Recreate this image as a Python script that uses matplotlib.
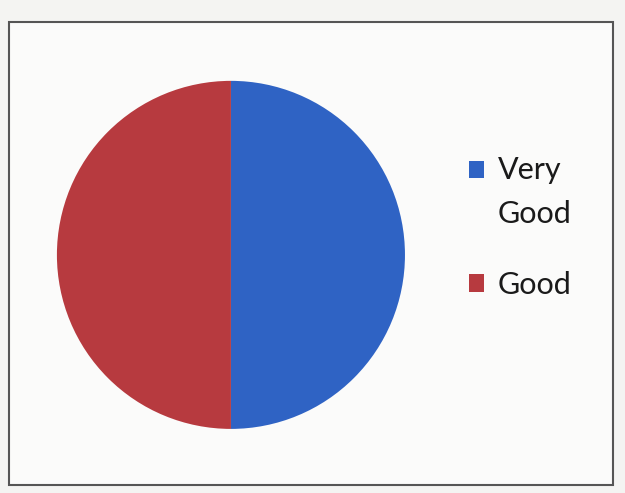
import matplotlib.pyplot as plt
from matplotlib.patches import Rectangle

# data
labels = ["Very\nGood", "Good"]
values = [50, 50]
colors = ["#2f63c4", "#b73a3f"]

plt.rcParams['font.family'] = ['Lato', 'DejaVu Sans']

fig = plt.figure(figsize=(6.25, 4.93), dpi=100)
fig.patch.set_facecolor("#f4f4f2")

# chart area frame (behind the pie)
fig.patches.append(Rectangle((0.014, 0.016), 0.966, 0.94, transform=fig.transFigure,
                             facecolor="#fbfbfa", edgecolor="#555555", linewidth=1.5,
                             zorder=-5))

ax = fig.add_axes([0.091, 0.13, 0.557, 0.706])
wedges, _ = ax.pie(values, colors=colors, startangle=90, counterclock=False,
                   wedgeprops=dict(linewidth=0))
ax.set_xlim(-1, 1)
ax.set_ylim(-1, 1)
ax.set_aspect("equal")

leg = fig.legend(wedges, labels, loc="upper left", bbox_to_anchor=(0.706, 0.739),
                 frameon=False, fontsize=22, handlelength=0.5, handleheight=0.5,
                 handletextpad=0.45, labelspacing=1.42, labelcolor="#1a1a1a")
for t in leg.get_texts():
    t.set_linespacing(1.67)
# put the first square next to the first line ("Very")
h = leg.legend_handles[0]
h.set_y(h.get_y() + 16.5)

plt.savefig("out.png", dpi=100, facecolor=fig.get_facecolor())
